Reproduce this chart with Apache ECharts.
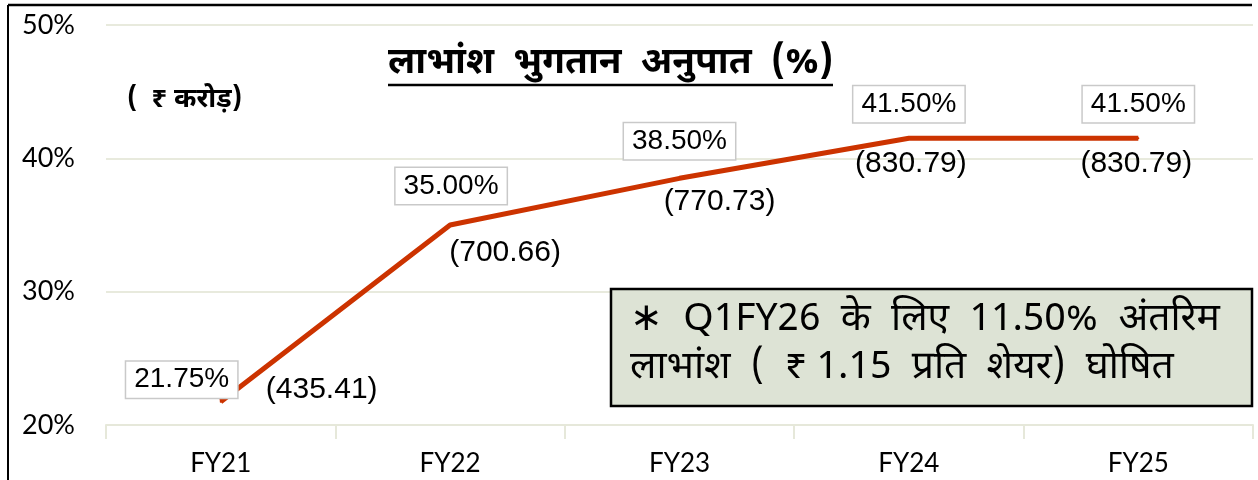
<!DOCTYPE html>
<html>
<head>
<meta charset="utf-8">
<script src="https://cdn.jsdelivr.net/npm/echarts@6/dist/echarts.min.js"></script>
<style>
html,body{margin:0;padding:0;background:#fff;}
#chart{width:1258px;height:480px;}
</style>
</head>
<body>
<div id="chart"></div>
<script>
// data
var years = ['FY21', 'FY22', 'FY23', 'FY24', 'FY25'];
var payout = [21.75, 35.00, 38.50, 41.50, 41.50];
var crore = ['435.41', '700.66', '770.73', '830.79', '830.79'];
var yTicks = [20, 30, 40, 50];

// label offsets (style only)
var pctOff = [[-39, -22], [1, -39], [0, -37], [0, -34], [0, -34]];
var crOff = [[101, -12], [55, 28], [40, 23], [2, 25], [-2, 25]];

var LINE_RED = '#cc3300';
var devFont = '"Noto Sans Devanagari","Noto Sans","Liberation Sans",sans-serif';

var pctData = [], crData = [];
for (var i = 0; i < years.length; i++) {
    pctData.push({value: payout[i], label: {offset: pctOff[i]}});
    crData.push({value: payout[i], label: {offset: crOff[i]}});
}

var chart = echarts.init(document.getElementById('chart'));
var option = {
    backgroundColor: '#fff',
    animation: false,
    grid: {left: 106, right: 5, top: 25, bottom: 55},
    xAxis: {
        type: 'category',
        data: years,
        boundaryGap: true,
        axisLine: {lineStyle: {color: '#e6e8da', width: 2}},
        axisTick: {show: true, length: 14, lineStyle: {color: '#e6e8da', width: 2}},
        axisLabel: {color: '#000', fontFamily: 'Lato', fontSize: 26, margin: 26}
    },
    yAxis: {
        type: 'value',
        min: yTicks[0],
        max: yTicks[yTicks.length - 1],
        interval: 10,
        axisLine: {show: false},
        axisTick: {show: false},
        splitLine: {lineStyle: {color: '#e8eadd', width: 2}},
        axisLabel: {color: '#000', fontFamily: 'Lato', fontSize: 27, margin: 31, formatter: '{value}%'}
    },
    series: [
        {
            type: 'line',
            data: pctData,
            symbol: 'circle',
            symbolSize: 2,
            lineStyle: {color: LINE_RED, width: 5},
            itemStyle: {color: LINE_RED},
            z: 3,
            label: {
                show: true,
                position: 'inside',
                formatter: function (p) { return p.value.toFixed(2) + '%'; },
                color: '#000',
                fontFamily: 'Liberation Sans',
                fontSize: 28,
                backgroundColor: '#fff',
                borderColor: '#c9c9c9',
                borderWidth: 1.5,
                padding: [5, 8, 3, 8]
            }
        },
        {
            type: 'line',
            data: crData,
            symbol: 'circle',
            symbolSize: 1,
            lineStyle: {opacity: 0},
            itemStyle: {color: LINE_RED},
            z: 2,
            label: {
                show: true,
                position: 'inside',
                formatter: function (p) { return '(' + crore[p.dataIndex] + ')'; },
                color: '#000',
                fontFamily: 'Liberation Sans',
                fontSize: 30
            }
        }
    ],
    graphic: [
        // outer frame (left + top)
        {type: 'line', shape: {x1: 8, y1: 5, x2: 8, y2: 480}, style: {stroke: '#000', lineWidth: 2}},
        {type: 'line', shape: {x1: 8, y1: 5, x2: 1252, y2: 5}, style: {stroke: '#000', lineWidth: 2.5}},
        // title
        {type: 'text', left: 388, top: 48, style: {text: 'लाभांश  भुगतान  अनुपात  (%)', fill: '#000',
            font: 'bold 37px ' + devFont}},
        {type: 'line', shape: {x1: 388, y1: 85, x2: 833, y2: 85}, style: {stroke: '#000', lineWidth: 2.5}},
        // unit
        {type: 'text', left: 127, top: 88, style: {text: '(  ₹ करोड़)', fill: '#000',
            font: 'bold 27px ' + devFont}},
        // note box
        {type: 'rect', shape: {x: 611, y: 289, width: 641, height: 117},
            style: {fill: '#dde3d5', stroke: '#000', lineWidth: 2.5}, z: 10},
        {type: 'text', left: 630, top: 299, z: 11, style: {
            text: '∗  Q1FY26  के  लिए  11.50%  अंतरिम\nलाभांश  (  ₹ 1.15  प्रति  शेयर)  घोषित',
            fill: '#000', font: '39px "Liberation Sans Narrow",' + devFont, lineHeight: 48}}
    ]
};
chart.setOption(option);
</script>
</body>
</html>
